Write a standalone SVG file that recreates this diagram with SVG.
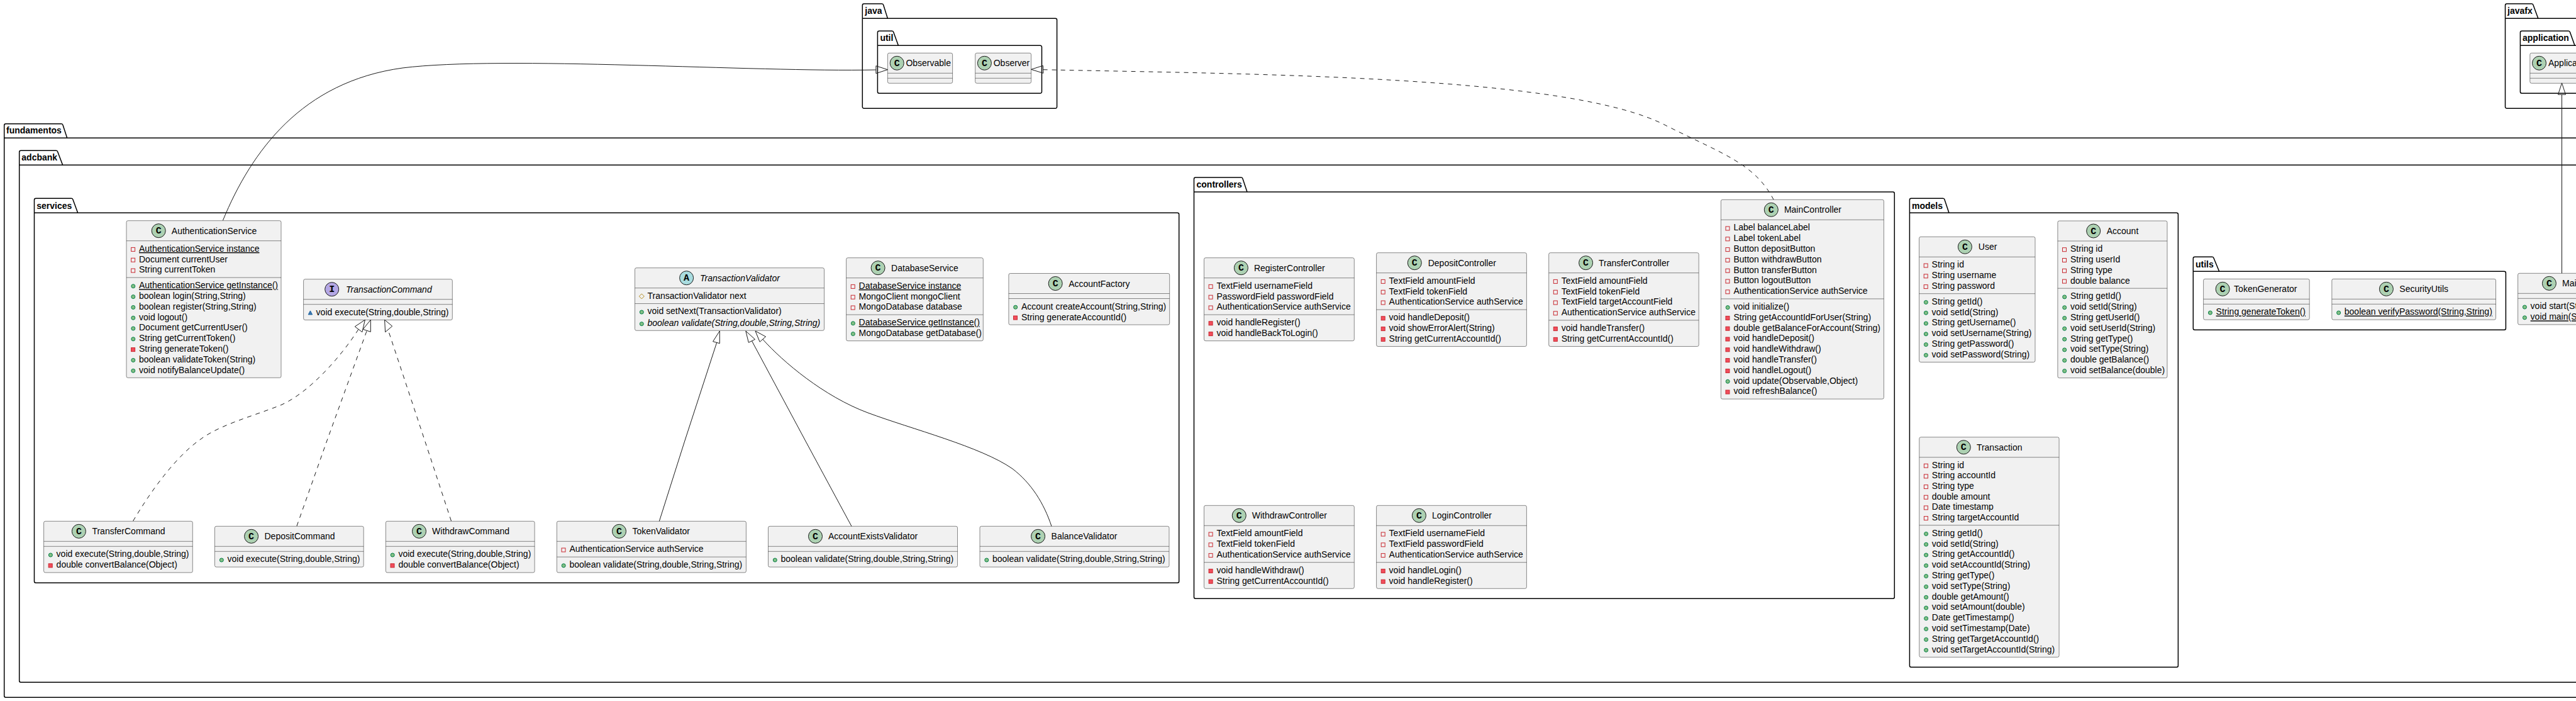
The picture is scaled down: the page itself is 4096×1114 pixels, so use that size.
<svg xmlns="http://www.w3.org/2000/svg" width="4096" height="1114" viewBox="0 0 4096 1114">
<style>
text{font-family:"Liberation Sans",Arial,sans-serif;font-size:14px;fill:#000}
.pk{fill:none;stroke:#000;stroke-width:1.5}
.pt{font-weight:bold}
.b{fill:#F1F1F1;stroke:#181818;stroke-width:.5}
.s{fill:none;stroke:#181818;stroke-width:.5}
.c{fill:#ADD1B2;stroke:#181818;stroke-width:1}
.ci{fill:#B4A7E5;stroke:#181818;stroke-width:1}
.ca{fill:#A9DCDF;stroke:#181818;stroke-width:1}
.g{font-family:"Liberation Mono",monospace;font-weight:bold;font-size:15px;text-anchor:middle}
.i{font-style:italic}
.u{text-decoration:underline}
.l{fill:none;stroke:#181818;stroke-width:1}
.d{stroke-dasharray:7,7}
.a{fill:none;stroke:#181818;stroke-width:1}
</style>
<defs>
<rect id="pa" x="7.6" y="-6.5" width="6" height="6" fill="none" stroke="#C82930"/>
<rect id="pm" x="7.6" y="-6.5" width="6" height="6" fill="#F24D5C" stroke="#C82930"/>
<circle id="um" cx="10.8" cy="-3.5" r="3" fill="#84BE84" stroke="#038048"/>
<polygon id="km" points="10.8,-7 14,-1 7.6,-1" fill="#4177AF" stroke="#1963A0"/>
<polygon id="oa" points="10.8,-8 14.8,-4 10.8,0 6.8,-4" fill="none" stroke="#B38D22"/>
</defs>
<g id="packages">
<g id="pkg-fundamentos"><path class="pk" d="M6.7 199.2A2.5 2.5 0 0 1 9.2 196.7H97.5A2.5 2.5 0 0 1 100 198.7L106.7 219.3H4200V1108.3H9.2A2.5 2.5 0 0 1 6.7 1105.8ZM6.7 219.3H106.7"/><text class="pt" x="10" y="212.3">fundamentos</text></g>
<g id="pkg-adcbank"><path class="pk" d="M30.7 241.8A2.5 2.5 0 0 1 33.2 239.3H89.2A2.5 2.5 0 0 1 91.7 241.3L99.7 262.3H4180V1084.3H33.2A2.5 2.5 0 0 1 30.7 1081.8ZM30.7 262.3H99.7"/><text class="pt" x="34.3" y="255.3">adcbank</text></g>
<g id="pkg-services"><path class="pk" d="M54.5 317.8A2.5 2.5 0 0 1 57 315.3H113.5A2.5 2.5 0 0 1 116 317.3L123.7 338.3H1872.2A2.5 2.5 0 0 1 1874.7 340.8V923.8A2.5 2.5 0 0 1 1872.2 926.3H57A2.5 2.5 0 0 1 54.5 923.8ZM54.5 338.3H123.7"/><text class="pt" x="58.3" y="331.5">services</text></g>
<g id="pkg-controllers"><path class="pk" d="M1898.5 284.5A2.5 2.5 0 0 1 1901 282H1973.5A2.5 2.5 0 0 1 1976 284L1983 305H3009.8A2.5 2.5 0 0 1 3012.3 307.5V948.8A2.5 2.5 0 0 1 3009.8 951.3H1901A2.5 2.5 0 0 1 1898.5 948.8ZM1898.5 305H1983"/><text class="pt" x="1902.5" y="298">controllers</text></g>
<g id="pkg-models"><path class="pk" d="M3036.4 317.8A2.5 2.5 0 0 1 3038.9 315.3H3089.5A2.5 2.5 0 0 1 3092 317.3L3099 338.3H3460.9A2.5 2.5 0 0 1 3463.4 340.8V1057.8A2.5 2.5 0 0 1 3460.9 1060.3H3038.9A2.5 2.5 0 0 1 3036.4 1057.8ZM3036.4 338.3H3099"/><text class="pt" x="3040" y="331.5">models</text></g>
<g id="pkg-utils"><path class="pk" d="M3487.3 410.8A2.5 2.5 0 0 1 3489.8 408.3H3517.5A2.5 2.5 0 0 1 3520 410.3L3528.7 431.3H3981.9A2.5 2.5 0 0 1 3984.4 433.8V521.8A2.5 2.5 0 0 1 3981.9 524.3H3489.8A2.5 2.5 0 0 1 3487.3 521.8ZM3487.3 431.3H3528.7"/><text class="pt" x="3491" y="424.5">utils</text></g>
<g id="pkg-java"><path class="pk" d="M1371.3 8.5A2.5 2.5 0 0 1 1373.8 6H1402.2A2.5 2.5 0 0 1 1404.7 8L1411.4 29.3H1678.1A2.5 2.5 0 0 1 1680.6 31.8V169.8A2.5 2.5 0 0 1 1678.1 172.3H1373.8A2.5 2.5 0 0 1 1371.3 169.8ZM1371.3 29.3H1411.4"/><text class="pt" x="1375.3" y="22">java</text></g>
<g id="pkg-util"><path class="pk" d="M1395.4 51.8A2.5 2.5 0 0 1 1397.9 49.3H1418.3A2.5 2.5 0 0 1 1420.8 51.3L1428.4 72.3H1654A2.5 2.5 0 0 1 1656.5 74.8V145.8A2.5 2.5 0 0 1 1654 148.3H1397.9A2.5 2.5 0 0 1 1395.4 145.8ZM1395.4 72.3H1428.4"/><text class="pt" x="1399.4" y="65">util</text></g>
<g id="pkg-javafx"><path class="pk" d="M3983.5 8.5A2.5 2.5 0 0 1 3986 6H4025.5A2.5 2.5 0 0 1 4028 8L4035.8 29.3H4200V172.3H3986A2.5 2.5 0 0 1 3983.5 169.8ZM3983.5 29.3H4035.8"/><text class="pt" x="3987" y="22">javafx</text></g>
<g id="pkg-application"><path class="pk" d="M4007.4 51.8A2.5 2.5 0 0 1 4009.9 49.3H4084A2.5 2.5 0 0 1 4086.5 51.3L4094 72.3H4200V148.3H4009.9A2.5 2.5 0 0 1 4007.4 145.8ZM4007.4 72.3H4094"/><text class="pt" x="4011" y="65">application</text></g>
</g>
<g id="AuthenticationService" transform="translate(201,350.7)"><rect class="b" width="246" height="249.6" rx="2.5"/><path class="s" d="M0 32H246M0 90.4H246"/><circle class="c" cx="51.2" cy="16" r="11"/><text class="g" x="51.2" y="20.5">C</text><text x="71.8" y="21">AuthenticationService</text>
<use href="#pa" y="49.2"/><text class="u" x="20" y="49.2">AuthenticationService instance</text>
<use href="#pa" y="66"/><text x="20" y="66">Document currentUser</text>
<use href="#pa" y="82.8"/><text x="20" y="82.8">String currentToken</text>
<use href="#um" y="107.6"/><text class="u" x="20" y="107.6">AuthenticationService getInstance()</text>
<use href="#um" y="124.4"/><text x="20" y="124.4">boolean login(String,String)</text>
<use href="#um" y="141.2"/><text x="20" y="141.2">boolean register(String,String)</text>
<use href="#um" y="158"/><text x="20" y="158">void logout()</text>
<use href="#um" y="174.8"/><text x="20" y="174.8">Document getCurrentUser()</text>
<use href="#um" y="191.6"/><text x="20" y="191.6">String getCurrentToken()</text>
<use href="#pm" y="208.4"/><text x="20" y="208.4">String generateToken()</text>
<use href="#um" y="225.2"/><text x="20" y="225.2">boolean validateToken(String)</text>
<use href="#um" y="242"/><text x="20" y="242">void notifyBalanceUpdate()</text></g>
<g id="TransactionCommand" transform="translate(482.6,443.7)"><rect class="b" width="236.7" height="64.8" rx="2.5"/><path class="s" d="M0 32H236.7M0 40H236.7"/><circle class="ci" cx="45.1" cy="16" r="11"/><text class="g" x="45.1" y="20.5">I</text><text class="i" x="67.4" y="21">TransactionCommand</text>
<use href="#km" y="57.2"/><text x="20" y="57.2">void execute(String,double,String)</text></g>
<g id="TransactionValidator" transform="translate(1009.5,425.7)"><rect class="b" width="301" height="99.6" rx="2.5"/><path class="s" d="M0 32H301M0 56.8H301"/><circle class="ca" cx="82.1" cy="16" r="11"/><text class="g" x="82.1" y="20.5">A</text><text class="i" x="103.5" y="21">TransactionValidator</text>
<use href="#oa" y="49.2"/><text x="20" y="49.2">TransactionValidator next</text>
<use href="#um" y="73.8"/><text x="20" y="73.8">void setNext(TransactionValidator)</text>
<use href="#um" y="92.5"/><text class="i" x="20" y="92.5">boolean validate(String,double,String,String)</text></g>
<g id="DatabaseService" transform="translate(1345.6,409.7)"><rect class="b" width="217.7" height="132" rx="2.5"/><path class="s" d="M0 32H217.7M0 90.4H217.7"/><circle class="c" cx="50.5" cy="16" r="11"/><text class="g" x="50.5" y="20.5">C</text><text x="71.5" y="21">DatabaseService</text>
<use href="#pa" y="49.2"/><text class="u" x="20" y="49.2">DatabaseService instance</text>
<use href="#pa" y="66"/><text x="20" y="66">MongoClient mongoClient</text>
<use href="#pa" y="82.8"/><text x="20" y="82.8">MongoDatabase database</text>
<use href="#um" y="107.6"/><text class="u" x="20" y="107.6">DatabaseService getInstance()</text>
<use href="#um" y="124.4"/><text x="20" y="124.4">MongoDatabase getDatabase()</text></g>
<g id="AccountFactory" transform="translate(1603.9,434.5)"><rect class="b" width="255.8" height="81.6" rx="2.5"/><path class="s" d="M0 32H255.8M0 40H255.8"/><circle class="c" cx="74.3" cy="16" r="11"/><text class="g" x="74.3" y="20.5">C</text><text x="95.3" y="21">AccountFactory</text>
<use href="#um" y="57.2"/><text x="20" y="57.2">Account createAccount(String,String)</text>
<use href="#pm" y="74"/><text x="20" y="74">String generateAccountId()</text></g>
<g id="TransferCommand" transform="translate(69.6,828.3)"><rect class="b" width="236.7" height="81.6" rx="2.5"/><path class="s" d="M0 32H236.7M0 40H236.7"/><circle class="c" cx="55.8" cy="16" r="11"/><text class="g" x="55.8" y="20.5">C</text><text x="76.8" y="21">TransferCommand</text>
<use href="#um" y="57.2"/><text x="20" y="57.2">void execute(String,double,String)</text>
<use href="#pm" y="74"/><text x="20" y="74">double convertBalance(Object)</text></g>
<g id="DepositCommand" transform="translate(341.5,836.3)"><rect class="b" width="236.7" height="64.8" rx="2.5"/><path class="s" d="M0 32H236.7M0 40H236.7"/><circle class="c" cx="58.1" cy="16" r="11"/><text class="g" x="58.1" y="20.5">C</text><text x="79" y="21">DepositCommand</text>
<use href="#um" y="57.2"/><text x="20" y="57.2">void execute(String,double,String)</text></g>
<g id="WithdrawCommand" transform="translate(613.4,828.3)"><rect class="b" width="236.7" height="81.6" rx="2.5"/><path class="s" d="M0 32H236.7M0 40H236.7"/><circle class="c" cx="53.1" cy="16" r="11"/><text class="g" x="53.1" y="20.5">C</text><text x="73.7" y="21">WithdrawCommand</text>
<use href="#um" y="57.2"/><text x="20" y="57.2">void execute(String,double,String)</text>
<use href="#pm" y="74"/><text x="20" y="74">double convertBalance(Object)</text></g>
<g id="TokenValidator" transform="translate(885.4,828.3)"><rect class="b" width="301" height="81.6" rx="2.5"/><path class="s" d="M0 32H301M0 56.8H301"/><circle class="c" cx="99.1" cy="16" r="11"/><text class="g" x="99.1" y="20.5">C</text><text x="120" y="21">TokenValidator</text>
<use href="#pa" y="49.2"/><text x="20" y="49.2">AuthenticationService authService</text>
<use href="#um" y="74"/><text x="20" y="74">boolean validate(String,double,String,String)</text></g>
<g id="AccountExistsValidator" transform="translate(1221.5,836.3)"><rect class="b" width="301" height="64.8" rx="2.5"/><path class="s" d="M0 32H301M0 40H301"/><circle class="c" cx="75" cy="16" r="11"/><text class="g" x="75" y="20.5">C</text><text x="95.5" y="21">AccountExistsValidator</text>
<use href="#um" y="57.2"/><text x="20" y="57.2">boolean validate(String,double,String,String)</text></g>
<g id="BalanceValidator" transform="translate(1558,836.3)"><rect class="b" width="301" height="64.8" rx="2.5"/><path class="s" d="M0 32H301M0 40H301"/><circle class="c" cx="92.6" cy="16" r="11"/><text class="g" x="92.6" y="20.5">C</text><text x="113.6" y="21">BalanceValidator</text>
<use href="#um" y="57.2"/><text x="20" y="57.2">boolean validate(String,double,String,String)</text></g>
<g id="RegisterController" transform="translate(1914.5,409.7)"><rect class="b" width="238.8" height="132" rx="2.5"/><path class="s" d="M0 32H238.8M0 90.4H238.8"/><circle class="c" cx="58.9" cy="16" r="11"/><text class="g" x="58.9" y="20.5">C</text><text x="79.4" y="21">RegisterController</text>
<use href="#pa" y="49.2"/><text x="20" y="49.2">TextField usernameField</text>
<use href="#pa" y="66"/><text x="20" y="66">PasswordField passwordField</text>
<use href="#pa" y="82.8"/><text x="20" y="82.8">AuthenticationService authService</text>
<use href="#pm" y="107.6"/><text x="20" y="107.6">void handleRegister()</text>
<use href="#pm" y="124.4"/><text x="20" y="124.4">void handleBackToLogin()</text></g>
<g id="DepositController" transform="translate(2188.6,401.7)"><rect class="b" width="238.8" height="148.8" rx="2.5"/><path class="s" d="M0 32H238.8M0 90.4H238.8"/><circle class="c" cx="60.7" cy="16" r="11"/><text class="g" x="60.7" y="20.5">C</text><text x="82.1" y="21">DepositController</text>
<use href="#pa" y="49.2"/><text x="20" y="49.2">TextField amountField</text>
<use href="#pa" y="66"/><text x="20" y="66">TextField tokenField</text>
<use href="#pa" y="82.8"/><text x="20" y="82.8">AuthenticationService authService</text>
<use href="#pm" y="107.6"/><text x="20" y="107.6">void handleDeposit()</text>
<use href="#pm" y="124.4"/><text x="20" y="124.4">void showErrorAlert(String)</text>
<use href="#pm" y="141.2"/><text x="20" y="141.2">String getCurrentAccountId()</text></g>
<g id="TransferController" transform="translate(2462.7,401.7)"><rect class="b" width="238.5" height="148.8" rx="2.5"/><path class="s" d="M0 32H238.5M0 107.2H238.5"/><circle class="c" cx="58.9" cy="16" r="11"/><text class="g" x="58.9" y="20.5">C</text><text x="79.4" y="21">TransferController</text>
<use href="#pa" y="49.2"/><text x="20" y="49.2">TextField amountField</text>
<use href="#pa" y="66"/><text x="20" y="66">TextField tokenField</text>
<use href="#pa" y="82.8"/><text x="20" y="82.8">TextField targetAccountField</text>
<use href="#pa" y="99.6"/><text x="20" y="99.6">AuthenticationService authService</text>
<use href="#pm" y="124.4"/><text x="20" y="124.4">void handleTransfer()</text>
<use href="#pm" y="141.2"/><text x="20" y="141.2">String getCurrentAccountId()</text></g>
<g id="MainController" transform="translate(2736.4,317.3)"><rect class="b" width="259" height="316.8" rx="2.5"/><path class="s" d="M0 32H259M0 157.6H259"/><circle class="c" cx="79.9" cy="16" r="11"/><text class="g" x="79.9" y="20.5">C</text><text x="100.5" y="21">MainController</text>
<use href="#pa" y="49.2"/><text x="20" y="49.2">Label balanceLabel</text>
<use href="#pa" y="66"/><text x="20" y="66">Label tokenLabel</text>
<use href="#pa" y="82.8"/><text x="20" y="82.8">Button depositButton</text>
<use href="#pa" y="99.6"/><text x="20" y="99.6">Button withdrawButton</text>
<use href="#pa" y="116.4"/><text x="20" y="116.4">Button transferButton</text>
<use href="#pa" y="133.2"/><text x="20" y="133.2">Button logoutButton</text>
<use href="#pa" y="150"/><text x="20" y="150">AuthenticationService authService</text>
<use href="#um" y="174.8"/><text x="20" y="174.8">void initialize()</text>
<use href="#pm" y="191.6"/><text x="20" y="191.6">String getAccountIdForUser(String)</text>
<use href="#pm" y="208.4"/><text x="20" y="208.4">double getBalanceForAccount(String)</text>
<use href="#pm" y="225.2"/><text x="20" y="225.2">void handleDeposit()</text>
<use href="#pm" y="242"/><text x="20" y="242">void handleWithdraw()</text>
<use href="#pm" y="258.8"/><text x="20" y="258.8">void handleTransfer()</text>
<use href="#pm" y="275.6"/><text x="20" y="275.6">void handleLogout()</text>
<use href="#um" y="292.4"/><text x="20" y="292.4">void update(Observable,Object)</text>
<use href="#pm" y="309.2"/><text x="20" y="309.2">void refreshBalance()</text></g>
<g id="WithdrawController" transform="translate(1914.5,803.3)"><rect class="b" width="238.8" height="132" rx="2.5"/><path class="s" d="M0 32H238.8M0 90.4H238.8"/><circle class="c" cx="55.8" cy="16" r="11"/><text class="g" x="55.8" y="20.5">C</text><text x="76.3" y="21">WithdrawController</text>
<use href="#pa" y="49.2"/><text x="20" y="49.2">TextField amountField</text>
<use href="#pa" y="66"/><text x="20" y="66">TextField tokenField</text>
<use href="#pa" y="82.8"/><text x="20" y="82.8">AuthenticationService authService</text>
<use href="#pm" y="107.6"/><text x="20" y="107.6">void handleWithdraw()</text>
<use href="#pm" y="124.4"/><text x="20" y="124.4">String getCurrentAccountId()</text></g>
<g id="LoginController" transform="translate(2188.6,803.3)"><rect class="b" width="238.8" height="132" rx="2.5"/><path class="s" d="M0 32H238.8M0 90.4H238.8"/><circle class="c" cx="67.8" cy="16" r="11"/><text class="g" x="67.8" y="20.5">C</text><text x="88.4" y="21">LoginController</text>
<use href="#pa" y="49.2"/><text x="20" y="49.2">TextField usernameField</text>
<use href="#pa" y="66"/><text x="20" y="66">TextField passwordField</text>
<use href="#pa" y="82.8"/><text x="20" y="82.8">AuthenticationService authService</text>
<use href="#pm" y="107.6"/><text x="20" y="107.6">void handleLogin()</text>
<use href="#pm" y="124.4"/><text x="20" y="124.4">void handleRegister()</text></g>
<g id="User" transform="translate(3051.6,376.3)"><rect class="b" width="184.4" height="199.2" rx="2.5"/><path class="s" d="M0 32H184.4M0 90.4H184.4"/><circle class="c" cx="72.8" cy="16" r="11"/><text class="g" x="72.8" y="20.5">C</text><text x="94.2" y="21">User</text>
<use href="#pa" y="49.2"/><text x="20" y="49.2">String id</text>
<use href="#pa" y="66"/><text x="20" y="66">String username</text>
<use href="#pa" y="82.8"/><text x="20" y="82.8">String password</text>
<use href="#um" y="107.6"/><text x="20" y="107.6">String getId()</text>
<use href="#um" y="124.4"/><text x="20" y="124.4">void setId(String)</text>
<use href="#um" y="141.2"/><text x="20" y="141.2">String getUsername()</text>
<use href="#um" y="158"/><text x="20" y="158">void setUsername(String)</text>
<use href="#um" y="174.8"/><text x="20" y="174.8">String getPassword()</text>
<use href="#um" y="191.6"/><text x="20" y="191.6">void setPassword(String)</text></g>
<g id="Account" transform="translate(3271.9,351)"><rect class="b" width="174.1" height="249.6" rx="2.5"/><path class="s" d="M0 32H174.1M0 107.2H174.1"/><circle class="c" cx="56.8" cy="16" r="11"/><text class="g" x="56.8" y="20.5">C</text><text x="77.8" y="21">Account</text>
<use href="#pa" y="49.2"/><text x="20" y="49.2">String id</text>
<use href="#pa" y="66"/><text x="20" y="66">String userId</text>
<use href="#pa" y="82.8"/><text x="20" y="82.8">String type</text>
<use href="#pa" y="99.6"/><text x="20" y="99.6">double balance</text>
<use href="#um" y="124.4"/><text x="20" y="124.4">String getId()</text>
<use href="#um" y="141.2"/><text x="20" y="141.2">void setId(String)</text>
<use href="#um" y="158"/><text x="20" y="158">String getUserId()</text>
<use href="#um" y="174.8"/><text x="20" y="174.8">void setUserId(String)</text>
<use href="#um" y="191.6"/><text x="20" y="191.6">String getType()</text>
<use href="#um" y="208.4"/><text x="20" y="208.4">void setType(String)</text>
<use href="#um" y="225.2"/><text x="20" y="225.2">double getBalance()</text>
<use href="#um" y="242"/><text x="20" y="242">void setBalance(double)</text></g>
<g id="Transaction" transform="translate(3051.8,694.7)"><rect class="b" width="222.3" height="349.6" rx="2.5"/><path class="s" d="M0 32H222.3M0 140H222.3"/><circle class="c" cx="70.5" cy="16" r="11"/><text class="g" x="70.5" y="20.5">C</text><text x="91.1" y="21">Transaction</text>
<use href="#pa" y="49"/><text x="20" y="49">String id</text>
<use href="#pa" y="65.7"/><text x="20" y="65.7">String accountId</text>
<use href="#pa" y="82.4"/><text x="20" y="82.4">String type</text>
<use href="#pa" y="99"/><text x="20" y="99">double amount</text>
<use href="#pa" y="115.7"/><text x="20" y="115.7">Date timestamp</text>
<use href="#pa" y="132.4"/><text x="20" y="132.4">String targetAccountId</text>
<use href="#um" y="157.2"/><text x="20" y="157.2">String getId()</text>
<use href="#um" y="174"/><text x="20" y="174">void setId(String)</text>
<use href="#um" y="190.8"/><text x="20" y="190.8">String getAccountId()</text>
<use href="#um" y="207.6"/><text x="20" y="207.6">void setAccountId(String)</text>
<use href="#um" y="224.4"/><text x="20" y="224.4">String getType()</text>
<use href="#um" y="241.2"/><text x="20" y="241.2">void setType(String)</text>
<use href="#um" y="258"/><text x="20" y="258">double getAmount()</text>
<use href="#um" y="274.8"/><text x="20" y="274.8">void setAmount(double)</text>
<use href="#um" y="291.6"/><text x="20" y="291.6">Date getTimestamp()</text>
<use href="#um" y="308.4"/><text x="20" y="308.4">void setTimestamp(Date)</text>
<use href="#um" y="325.2"/><text x="20" y="325.2">String getTargetAccountId()</text>
<use href="#um" y="342"/><text x="20" y="342">void setTargetAccountId(String)</text></g>
<g id="TokenGenerator" transform="translate(3503.6,443.3)"><rect class="b" width="168.6" height="64.8" rx="2.5"/><path class="s" d="M0 32H168.6M0 40H168.6"/><circle class="c" cx="30.5" cy="16" r="11"/><text class="g" x="30.5" y="20.5">C</text><text x="48.5" y="21">TokenGenerator</text>
<use href="#um" y="57.2"/><text class="u" x="20" y="57.2">String generateToken()</text></g>
<g id="SecurityUtils" transform="translate(3707.8,443.3)"><rect class="b" width="260.7" height="64.8" rx="2.5"/><path class="s" d="M0 32H260.7M0 40H260.7"/><circle class="c" cx="86.6" cy="16" r="11"/><text class="g" x="86.6" y="20.5">C</text><text x="107.5" y="21">SecurityUtils</text>
<use href="#um" y="57.2"/><text class="u" x="20" y="57.2">boolean verifyPassword(String,String)</text></g>
<g id="Main" transform="translate(4003.6,434.3)"><rect class="b" width="139" height="81.6" rx="2.5"/><path class="s" d="M0 32H139M0 40H139"/><circle class="c" cx="49.8" cy="16" r="11"/><text class="g" x="49.8" y="20.5">C</text><text x="70.4" y="21">Main</text>
<use href="#um" y="57.2"/><text x="20" y="57.2">void start(Stage)</text>
<use href="#um" y="74"/><text class="u" x="20" y="74">void main(String[])</text></g>
<g id="Application" transform="translate(4022.8,84.3)"><rect class="b" width="101.2" height="48" rx="2.5"/><path class="s" d="M0 32H101.2M0 40H101.2"/><circle class="c" cx="14.7" cy="16" r="11"/><text class="g" x="14.7" y="20.5">C</text><text x="29.2" y="21">Application</text></g>
<g id="Observable" transform="translate(1411.4,84.3)"><rect class="b" width="103.2" height="48" rx="2.5"/><path class="s" d="M0 32H103.2M0 40H103.2"/><circle class="c" cx="14.8" cy="16" r="11"/><text class="g" x="14.8" y="20.5">C</text><text x="29" y="21">Observable</text></g>
<g id="Observer" transform="translate(1550.7,84.3)"><rect class="b" width="88.9" height="48" rx="2.5"/><path class="s" d="M0 32H88.9M0 40H88.9"/><circle class="c" cx="14.7" cy="16" r="11"/><text class="g" x="14.7" y="20.5">C</text><text x="29" y="21">Observer</text></g>
<g id="connectors">
<path class="l" d="M354.4 350.3C400 240 480 130 640 108C800 88 1200 115 1392.9 111"/><polygon class="a" points="1411.4,110.7 1392.9,104.7 1392.9,116.7"/>
<path class="l d" d="M1658.7 110.7C2000 118 2500 120 2650 200C2740 245 2790 260 2820 317"/><polygon class="a" points="1639.6,110.3 1658.4,104.3 1658.9,116.3"/>
<path class="l" d="M4073.5 434.3V150.3"/><polygon class="a" points="4073.5,131.9 4067.5,150.3 4079.5,150.3"/>
<path class="l d" d="M211.6 828C240 780 280 725 319 698C350 675 400 662 446 644C490 625 540 570 570 523.3"/><polygon class="a" points="580.4,508.3 564.3,519 575.9,527.7"/>
<path class="l d" d="M471.9 836L520 700L583.5 525"/><polygon class="a" points="589.3,508.3 577.2,523.3 589.3,527.3"/>
<path class="l d" d="M717.5 828L675.4 700L617.9 526.7"/><polygon class="a" points="611.6,508.3 623.7,518.3 612.6,527.7"/>
<path class="l" d="M1048.3 828.3L1089 700L1139.8 544"/><polygon class="a" points="1144.3,526 1133.6,542.7 1144.3,545.7"/>
<path class="l" d="M1354 836.3L1280.4 700L1195.6 542"/><polygon class="a" points="1185.8,526 1200.5,539.3 1190.3,544.3"/>
<path class="l" d="M1672 836.3C1660 800 1640 768 1610 745C1560 710 1450 682 1380 656C1310 630 1245 575 1212.6 539"/><polygon class="a" points="1201,526 1217.5,535 1208.1,543.3"/>
</g>
</svg>
